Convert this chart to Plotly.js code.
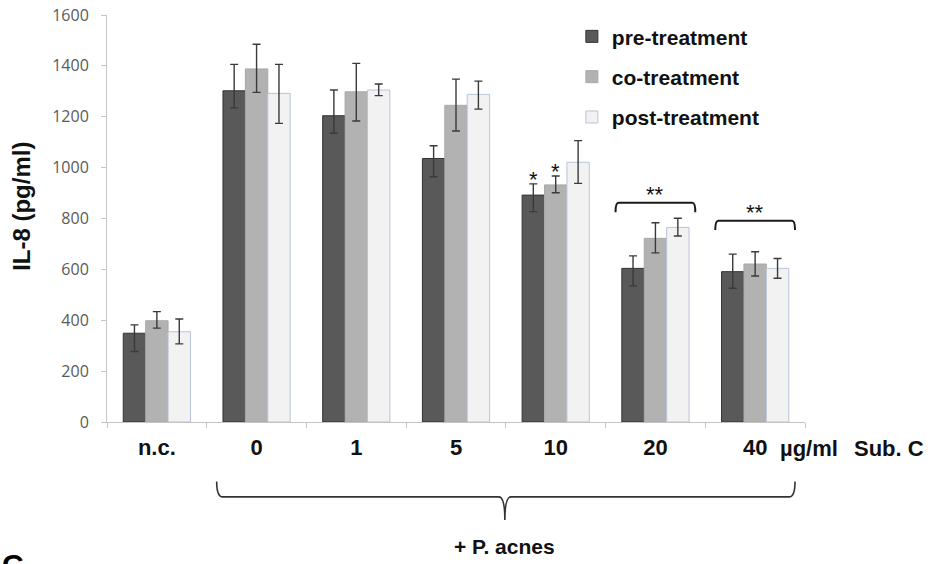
<!DOCTYPE html>
<html>
<head>
<meta charset="utf-8">
<script src="https://cdn.plot.ly/plotly-3.0.1.min.js"></script>
<style>html,body{margin:0;padding:0;background:#fff;}#chart{width:928px;height:564px;}</style>
</head>
<body>
<div id="chart"></div>
<script>
// ---- data ----
const categories = ['n.c.', '0', '1', '5', '10', '20', '40'];
const seriesNames = ['pre-treatment', 'co-treatment', 'post-treatment'];
const pre      = [349, 1302, 1204, 1036, 892, 604, 591];
const preUp    = [33, 104, 101, 50, 44, 49, 69];
const preDown  = [72, 67, 69, 72, 65, 69, 65];
const co       = [398, 1388, 1298, 1245, 932, 722, 621];
const coUp     = [36, 97, 112, 103, 35, 61, 48];
const coDown   = [29, 92, 115, 101, 31, 57, 47];
const post     = [355, 1292, 1305, 1288, 1021, 765, 604];
const postUp   = [50, 114, 24, 52, 85, 36, 39];
const postDown = [48, 118, 22, 58, 83, 34, 39];
const yTicks = [0, 200, 400, 600, 800, 1000, 1200, 1400, 1600];
const yTitle = 'IL-8 (pg/ml)';
// significance marks
const singleStarCats = ['10'];
const doubleStarCats = ['20', '40'];
const bracketTops = [862, 791];   // y level of the "**" brackets
const bracketEnds = [825, 755];   // y level of the bracket legs
const unitLabel = 'µg/ml';
const compoundLabel = 'Sub. C';
const bacteriaLabel = '+ P. acnes';
const panelLetter = 'C';

// ---- styling ----
const BOLD = 'Liberation Sans, Arial, sans-serif';
const errStyle = (up, down) => ({type: 'data', symmetric: false, array: up, arrayminus: down,
  color: '#3a3a3a', thickness: 1.4, width: 4});

function barTrace(name, y, up, down, fill, line, grp) {
  return {type: 'bar', name: name, x: categories, y: y, legendgroup: grp,
    marker: {color: fill, line: {color: line, width: 1}},
    error_y: errStyle(up, down), hoverinfo: 'skip'};
}

const traces = [
  barTrace(seriesNames[0], pre, preUp, preDown, '#595959', '#333333', 'a'),
  barTrace(seriesNames[1], co, coUp, coDown, '#b2b2b2', '#a8a8a8', 'b'),
  barTrace(seriesNames[2], post, postUp, postDown, '#f2f2f2', '#b8c4d8', 'c')
];

const annotations = [];
const shapes = [];
const barPx = 22.4; // visual offset of a bar within its group (px)
const starFont = {family: BOLD, size: 22, color: '#111'};

// single stars over pre and co bars of '10'
singleStarCats.forEach(c => {
  const i = categories.indexOf(c);
  annotations.push({x: i, y: pre[i] + preUp[i], xref: 'x', yref: 'y', text: '*', showarrow: false,
    xshift: -barPx, yanchor: 'bottom', yshift: -10, font: starFont});
  annotations.push({x: i, y: co[i] + coUp[i], xref: 'x', yref: 'y', text: '*', showarrow: false,
    xshift: 0, yanchor: 'bottom', yshift: -10, font: starFont});
});
// brackets + double stars
doubleStarCats.forEach((c, k) => {
  const i = categories.indexOf(c);
  const yEnd = bracketEnds[k], yTop = bracketTops[k];
  shapes.push({type: 'path', xref: 'x', yref: 'y',
    path: `M ${i - 0.4},${yEnd} Q ${i - 0.4},${yTop} ${i - 0.37},${yTop} L ${i + 0.37},${yTop} Q ${i + 0.4},${yTop} ${i + 0.4},${yEnd}`,
    line: {color: '#1a1a1a', width: 2}});
  annotations.push({x: i, y: yTop, xref: 'x', yref: 'y', text: '**', showarrow: false,
    yanchor: 'bottom', yshift: -6, font: starFont});
});

// y axis title (as annotation for exact placement)
annotations.push({x: -0.1218, xref: 'paper', y: 0.531, yref: 'paper', xanchor: 'center', yanchor: 'middle',
  textangle: -90, text: '<b>' + yTitle + '</b>', showarrow: false, font: {family: BOLD, size: 24, color: '#111'}});

// unit / compound labels right of axis
annotations.push({x: 1, xref: 'paper', xshift: 4, xanchor: 'center', y: 0, yref: 'paper', yshift: -26,
  yanchor: 'middle', text: '<b>' + unitLabel + '</b>', showarrow: false, font: {family: BOLD, size: 22, color: '#111'}});
annotations.push({x: 1, xref: 'paper', xshift: 84, xanchor: 'center', y: 0, yref: 'paper', yshift: -26,
  yanchor: 'middle', text: '<b>' + compoundLabel + '</b>', showarrow: false, font: {family: BOLD, size: 22, color: '#111'}});

// curly brace under categories 0..40
const bL = 0.6, bR = 6.4, bC = 3.49;
const yE = -0.146, yH = -0.184, yC = -0.241;
shapes.push({type: 'path', xref: 'x', yref: 'paper',
  path: `M ${bL},${yE} Q ${bL},${yH} ${bL + 0.06},${yH} L ${bC - 0.06},${yH} Q ${bC},${yH} ${bC},${yC} Q ${bC},${yH} ${bC + 0.06},${yH} L ${bR - 0.06},${yH} Q ${bR},${yH} ${bR},${yE}`,
  line: {color: '#333333', width: 1.6}});
annotations.push({x: bC, xref: 'x', y: -0.307, yref: 'paper', yanchor: 'middle', text: '<b>' + bacteriaLabel + '</b>',
  showarrow: false, font: {family: BOLD, size: 21, color: '#111'}});
// panel letter (cut off at page bottom, as in the source figure)
annotations.push({x: -0.153, xref: 'paper', xanchor: 'left', y: -0.305, yref: 'paper', yanchor: 'top',
  text: '<b>' + panelLetter + '</b>', showarrow: false, font: {family: BOLD, size: 30, color: '#000'}});

const layout = {
  width: 928, height: 564,
  margin: {l: 107, r: 123, t: 15, b: 142},
  paper_bgcolor: '#ffffff', plot_bgcolor: '#ffffff',
  barmode: 'group', bargap: 0.326, bargroupgap: 0,
  showlegend: true,
  legend: {x: 0.666, xanchor: 'left', y: 0.997, yanchor: 'top', traceorder: 'grouped', tracegroupgap: 10,
    bgcolor: 'rgba(0,0,0,0)', borderwidth: 0, font: {family: BOLD, size: 21, color: '#111', weight: 'bold'}},
  xaxis: {type: 'category', range: [-0.5, 6.5], showline: true, linecolor: '#c4c4c4', linewidth: 1,
    ticks: 'outside', tickson: 'boundaries', ticklen: 5, tickcolor: '#c4c4c4', showgrid: false, zeroline: false,
    ticklabelstandoff: 6,
    tickfont: {family: BOLD, size: 22, color: '#111', weight: 'bold'}},
  yaxis: {range: [0, 1600], tickvals: yTicks, showline: true, linecolor: '#c4c4c4', linewidth: 1,
    ticks: 'outside', ticklen: 5, tickcolor: '#c4c4c4', showgrid: false, zeroline: false,
    ticklabelstandoff: 9,
    tickfont: {family: 'Open Sans, sans-serif', size: 16, color: '#5a5a5a'}},
  shapes: shapes,
  annotations: annotations
};

Plotly.newPlot('chart', traces, layout, {staticPlot: true, displayModeBar: false});
</script>
</body>
</html>
